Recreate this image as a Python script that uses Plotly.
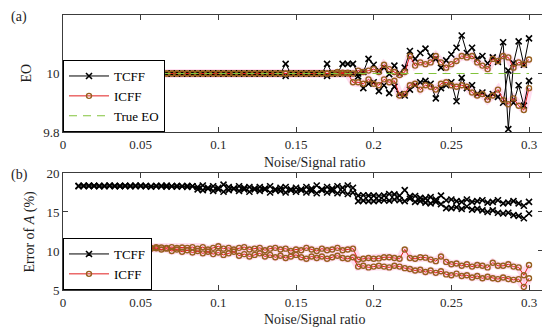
import numpy as np
import plotly.graph_objects as go

# ---------------- data ----------------
N = 88
x_ratio = np.round(0.01 + np.arange(N) / 300.0, 5)

def flat(v, n):
    return [v] * n

# panel (a): estimated EO
eo_tcff_a = (flat(10.0, 40) + [10.033] + flat(10.0, 7) + [10.033, 10.0, 10.0, 10.033, 10.033, 10.033] +
             [10.0, 10.005, 10.05, 10.03, 10.01, 10.02, 9.998, 10.027, 10.0, 10.02,
              10.077, 10.05, 10.07, 10.085, 10.06, 10.05, 10.02, 10.045, 10.065, 10.088,
              10.13, 10.07, 10.088, 10.05, 10.06, 10.035, 10.055, 10.04, 10.107, 9.81,
              10.035, 10.11, 10.03, 10.12])
eo_tcff_b = (flat(10.0, 40) + [9.992] + flat(10.0, 7) + [9.992] + flat(10.0, 5) +
             [9.99, 9.95, 9.965, 9.97, 9.94, 9.96, 9.933, 9.955, 9.93, 9.925,
              9.945, 9.96, 9.97, 9.975, 9.965, 9.915, 9.95, 9.96, 9.97, 9.905,
              9.985, 9.95, 9.96, 9.93, 9.935, 9.92, 9.93, 9.92, 9.90, 10.01,
              9.90, 9.96, 9.89, 9.975])
eo_icff_a = (flat(10.0, 50) + [10.005, 10.003, 10.003, 10.0] +
             [10.01, 10.005, 10.01, 10.015, 10.005, 10.03, 10.015, 10.005, 9.995, 10.005,
              10.06, 10.027, 10.038, 10.032, 10.038, 10.06, 10.038, 10.02, 10.032, 10.043,
              10.06, 10.055, 10.06, 10.038, 10.027, 10.015, 10.05, 10.043, 10.06, 10.055,
              10.02, 10.038, 10.032, 10.048])
eo_icff_b = (flat(10.0, 53) + [9.97] +
             [9.97, 9.965, 9.98, 9.965, 9.96, 9.98, 9.97, 9.975, 9.925, 9.93,
              9.96, 9.965, 9.945, 9.96, 9.955, 9.945, 9.965, 9.97, 9.96, 9.955,
              9.96, 9.955, 9.935, 9.925, 9.93, 9.91, 9.925, 9.945, 9.91, 9.895,
              9.915, 9.89, 9.875, 9.95])
eo_true = flat(10.0, N)

# panel (b): error of A (%)
err_tcff_a = ([18.35, 18.35, 18.4, 18.35, 18.35, 18.35, 18.4, 18.35, 18.35, 18.35, 18.35, 18.4,
               18.35, 18.35, 18.3, 18.35, 18.35, 18.4, 18.3, 18.35, 18.3, 18.35, 18.3] +
              [18.2, 18.4, 18.1, 18.3, 17.9, 18.5, 18.2, 18.0, 18.3, 18.1, 18.2, 17.9, 18.2, 18.0,
               18.3, 17.8, 18.1, 18.2, 17.9, 18.1, 17.8, 18.2, 18.0, 18.4, 17.9, 18.2, 18.0, 18.3,
               18.1, 18.4, 18.1] +
              [17.1, 17.15, 17.1, 17.1, 17.05, 17.1, 17.3, 17.25, 17.1, 17.8,
               17.0, 17.05, 16.8, 16.75, 16.9, 16.6, 17.1,
               16.5, 16.6, 16.4, 16.3, 16.6, 16.3, 16.4, 16.5, 16.2, 16.3, 16.5, 16.1, 16.2,
               16.4, 16.1, 15.8, 16.3])
err_tcff_b = ([18.3, 18.35, 18.3, 18.35, 18.3, 18.3, 18.35, 18.3, 18.3, 18.35, 18.3, 18.3,
               18.35, 18.3, 18.25, 18.3, 18.3, 18.25, 18.3, 18.25, 18.3, 18.2, 18.3] +
              [17.9, 17.8, 18.0, 17.7, 18.1, 17.6, 17.8, 18.0, 17.7, 17.9, 17.6, 18.0, 17.7, 17.9,
               17.5, 17.9, 17.7, 17.5, 17.8, 17.6, 17.9, 17.5, 17.7, 17.4, 17.8, 17.5, 17.7, 17.4,
               17.6, 17.3, 17.5] +
              [16.4, 16.45, 16.4, 16.4, 16.45, 16.5, 16.45, 16.6, 16.5, 16.4,
               16.7, 16.3, 16.4, 16.2, 16.1, 16.3, 16.0,
               15.5, 15.5, 15.6, 15.4, 15.7, 15.3, 15.4, 15.2, 15.0, 15.2, 14.9, 14.8, 14.9,
               14.6, 14.5, 14.2, 14.8])
err_icff_a = ([10.45, 10.45, 10.4, 10.45, 10.45, 10.45, 10.45, 10.5, 10.45, 10.45, 10.5, 10.45,
               10.5, 10.45, 10.4, 10.5, 10.45, 10.4, 10.5, 10.4, 10.45, 10.4, 10.5] +
              [10.3, 10.5, 10.2, 10.4, 10.6, 10.3, 10.4, 10.2, 10.4, 10.5, 10.2, 10.3, 10.4, 10.1,
               10.3, 10.4, 10.2, 10.3, 10.0, 10.2, 10.1, 10.4, 10.2, 10.0, 10.3, 10.1, 10.2, 10.4,
               10.1, 10.2, 10.3] +
              [8.9, 9.0, 9.1, 9.0, 9.05, 9.2, 9.2, 9.1, 9.0, 10.2,
               9.1, 9.0, 9.2, 9.15, 8.9, 8.7, 9.3,
               8.6, 8.3, 8.4, 8.1, 8.3, 8.0, 8.2, 8.1, 7.9, 8.5, 8.1, 8.1, 8.3,
               8.0, 7.9, 6.9, 8.2])
err_icff_b = ([10.45, 10.45, 10.4, 10.45, 10.45, 10.4, 10.45, 10.4, 10.45, 10.4, 10.45, 10.4,
               10.35, 10.4, 10.3, 10.35] +
              [10.2, 10.3, 10.0, 10.2, 9.9, 10.1, 9.8, 10.0, 9.7, 9.9,
               9.6, 9.8, 9.5, 9.7, 9.9, 9.4, 9.6, 9.3, 9.5, 9.7,
               9.3, 9.5, 9.2, 9.4, 9.1, 9.3, 9.5, 9.2, 9.0, 9.3,
               9.1, 9.3, 9.0, 9.2, 9.4, 9.1, 9.0, 9.2] +
              [8.0, 8.1, 7.9, 8.0, 8.1, 8.0, 7.9, 8.1, 8.0, 7.8,
               7.7, 7.5, 7.6, 7.3, 7.5, 7.2, 7.4,
               7.0, 6.9, 7.1, 6.8, 6.9, 6.6, 6.8, 6.5, 6.7, 6.5, 6.4, 6.6, 6.4,
               6.3, 6.4, 5.4, 6.5])

x_ticks = [0, 0.05, 0.1, 0.15, 0.2, 0.25, 0.3]
x_tick_labels = ["0", "0.05", "0.1", "0.15", "0.2", "0.25", "0.3"]
eo_ticks = [9.8, 10.0, 10.2]
eo_tick_labels = ["9.8", "10", "10.2"]
err_ticks = [5, 10, 15, 20]

# ---------------- styles ----------------
FONT = "Liberation Serif"
BLACK = "black"
RED = "rgb(225,30,30)"
MK = "rgb(150,95,30)"
PINK = "rgba(255,120,190,0.25)"
GREEN = "rgb(130,195,60)"
AX = "rgb(60,60,60)"

fig = go.Figure()

def add_panel(xa, ya, tc_a, tc_b, ic_a, ic_b, legend, true_line=None):
    for yv in (ic_a, ic_b):
        fig.add_trace(go.Scatter(x=x_ratio, y=yv, mode="lines", xaxis=xa, yaxis=ya,
                                 line=dict(color=PINK, width=8), showlegend=False,
                                 hoverinfo="skip", legend=legend))
    for i, yv in enumerate((tc_a, tc_b)):
        fig.add_trace(go.Scatter(x=x_ratio, y=yv, mode="lines+markers", xaxis=xa, yaxis=ya,
                                 name="TCFF", showlegend=(i == 0), legend=legend,
                                 line=dict(color=BLACK, width=1),
                                 marker=dict(symbol="x-thin", size=6, color=BLACK,
                                             line=dict(color=BLACK, width=1.6))))
    for i, yv in enumerate((ic_a, ic_b)):
        fig.add_trace(go.Scatter(x=x_ratio, y=yv, mode="lines+markers", xaxis=xa, yaxis=ya,
                                 name="ICFF", showlegend=(i == 0), legend=legend,
                                 line=dict(color=RED, width=1),
                                 marker=dict(symbol="circle-open", size=5, color=MK,
                                             line=dict(color=MK, width=1.4))))
    if true_line is not None:
        fig.add_trace(go.Scatter(x=x_ratio, y=true_line, mode="lines", xaxis=xa, yaxis=ya,
                                 name="True EO", legend=legend,
                                 line=dict(color=GREEN, width=1.2, dash="8px,6px")))

add_panel("x", "y", eo_tcff_a, eo_tcff_b, eo_icff_a, eo_icff_b, "legend", eo_true)
add_panel("x2", "y2", err_tcff_a, err_tcff_b, err_icff_a, err_icff_b, "legend2")

axis_common = dict(showline=True, linecolor=AX, linewidth=1, mirror="ticks",
                   ticks="inside", ticklen=5, tickcolor=AX, showgrid=False, zeroline=False,
                   tickfont=dict(family=FONT, size=13, color="rgb(40,40,40)"))

top_dom = [(290 - 128) / 282, 1.0]
bot_dom = [0.0, (290 - 170) / 282]

# page has an 8px body margin, so the figure is 8px smaller in each direction
fig.update_layout(
    width=542, height=325,
    margin=dict(l=55, r=7, t=0, b=43),
    paper_bgcolor="white", plot_bgcolor="white",
    font=dict(family=FONT, size=13, color="rgb(30,30,30)"),
    xaxis=dict(domain=[0, 1], anchor="y", range=[0, 0.309],
               tickvals=x_ticks, ticktext=x_tick_labels, **axis_common),
    yaxis=dict(domain=top_dom, anchor="x", range=[9.8, 10.2],
               tickvals=eo_ticks, ticktext=eo_tick_labels, **axis_common),
    xaxis2=dict(domain=[0, 1], anchor="y2", range=[0, 0.309],
                tickvals=x_ticks, ticktext=x_tick_labels, **axis_common),
    yaxis2=dict(domain=bot_dom, anchor="x2", range=[5, 20],
                tickvals=err_ticks, **axis_common),
    legend=dict(x=0, y=top_dom[0], xanchor="left", yanchor="bottom",
                bgcolor="white", bordercolor="black", borderwidth=1,
                font=dict(family=FONT, size=13, color="black"),
                tracegroupgap=0, itemwidth=40),
    legend2=dict(x=0, y=0, xanchor="left", yanchor="bottom",
                 bgcolor="white", bordercolor="black", borderwidth=1,
                 font=dict(family=FONT, size=13, color="black"),
                 tracegroupgap=0, itemwidth=40),
)

def px(p):
    return (p - 63) / 480.0

def py(p):
    return (290 - p) / 282.0

ann = [
    dict(text="(a)", x=px(8.5), y=py(10), xanchor="left"),
    dict(text="(b)", x=px(8.5), y=py(172), xanchor="left"),
    dict(text="EO", x=px(27), y=py(68), textangle=-90, xanchor="center"),
    dict(text="Error of <i>A</i> (%)", x=px(30), y=py(230), textangle=-90, xanchor="center"),
    dict(text="Noise/Signal ratio", x=px(315), y=py(159), xanchor="center"),
    dict(text="Noise/Signal ratio", x=px(315), y=py(320), xanchor="center"),
]
for a in ann:
    fig.add_annotation(xref="paper", yref="paper", showarrow=False, yanchor="middle",
                       font=dict(family=FONT, size=14, color="rgb(30,30,30)"), **a)

fig.write_html("out.html")
